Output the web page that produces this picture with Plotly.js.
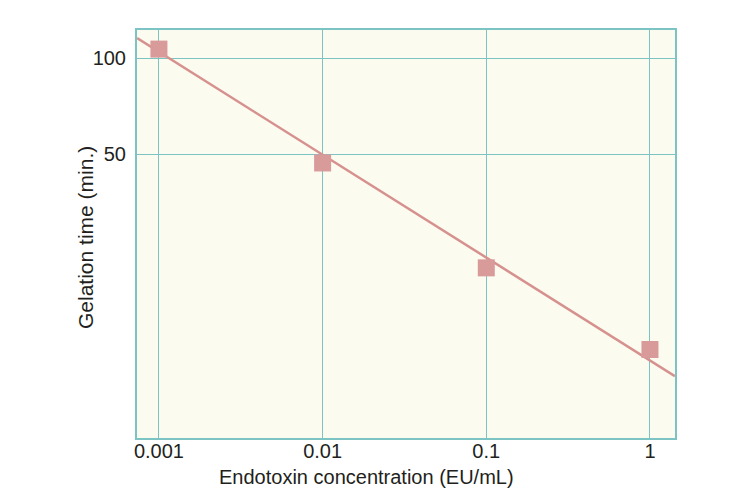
<!DOCTYPE html>
<html><head><meta charset="utf-8">
<script src="https://cdn.plot.ly/plotly-3.0.1.min.js"></script>
<style>html,body{margin:0;padding:0;background:#fff}</style>
</head><body>
<div id="chart" style="width:750px;height:500px"></div>
<script>
const concentration = [0.001, 0.01, 0.1, 1];
const gelationTime = [106.7, 46.9, 22.0, 12.2];
const fitX = [0.000735, 1.42];
const fitY = [115.5, 10.07];
const xTickVals = [0.001, 0.01, 0.1, 1];
const xTickText = ['0.001', '0.01', '0.1', '1'];
const yTickVals = [50, 100];
const yTickText = ['50', '100'];
const xTitle = 'Endotoxin concentration (EU/mL)';
const yTitle = 'Gelation time (min.)';

const font = 'Liberation Sans, Arial, Helvetica, sans-serif';
const teal = '#7cc4c4';

Plotly.newPlot('chart', [
  {x: fitX, y: fitY, mode: 'lines', line: {color: '#d6918e', width: 2.5}, hoverinfo: 'skip', showlegend: false},
  {x: concentration, y: gelationTime, mode: 'markers', marker: {symbol: 'square', size: 17, color: '#d99a9a'}, showlegend: false}
], {
  width: 750, height: 500,
  margin: {l: 137, r: 75, t: 30, b: 62},
  paper_bgcolor: '#ffffff',
  plot_bgcolor: '#fbfbef',
  font: {family: font, color: '#231f20', size: 20},
  xaxis: {
    type: 'log', range: [-3.134, 0.153],
    tickvals: xTickVals, ticktext: xTickText, ticks: '',
    tickfont: {size: 20}, ticklabelstandoff: -6,
    showgrid: true, gridcolor: teal, gridwidth: 1,
    showline: true, mirror: true, linecolor: teal, linewidth: 2,
    zeroline: false, automargin: false
  },
  yaxis: {
    type: 'log', range: [0.809, 2.088],
    tickvals: yTickVals, ticktext: yTickText, ticks: '',
    tickfont: {size: 20}, ticklabelstandoff: 5,
    showgrid: true, gridcolor: teal, gridwidth: 1,
    showline: true, mirror: true, linecolor: teal, linewidth: 2,
    zeroline: false, automargin: false
  },
  annotations: [
    {text: xTitle, xref: 'paper', yref: 'paper', x: 0.4275, y: -0.0956,
     xanchor: 'center', yanchor: 'middle', showarrow: false, font: {size: 20}},
    {text: yTitle, xref: 'paper', yref: 'paper', x: -0.0967, y: 0.4926, textangle: -90,
     xanchor: 'center', yanchor: 'middle', showarrow: false, font: {size: 21}}
  ]
}, {staticPlot: true});
</script>
</body></html>
